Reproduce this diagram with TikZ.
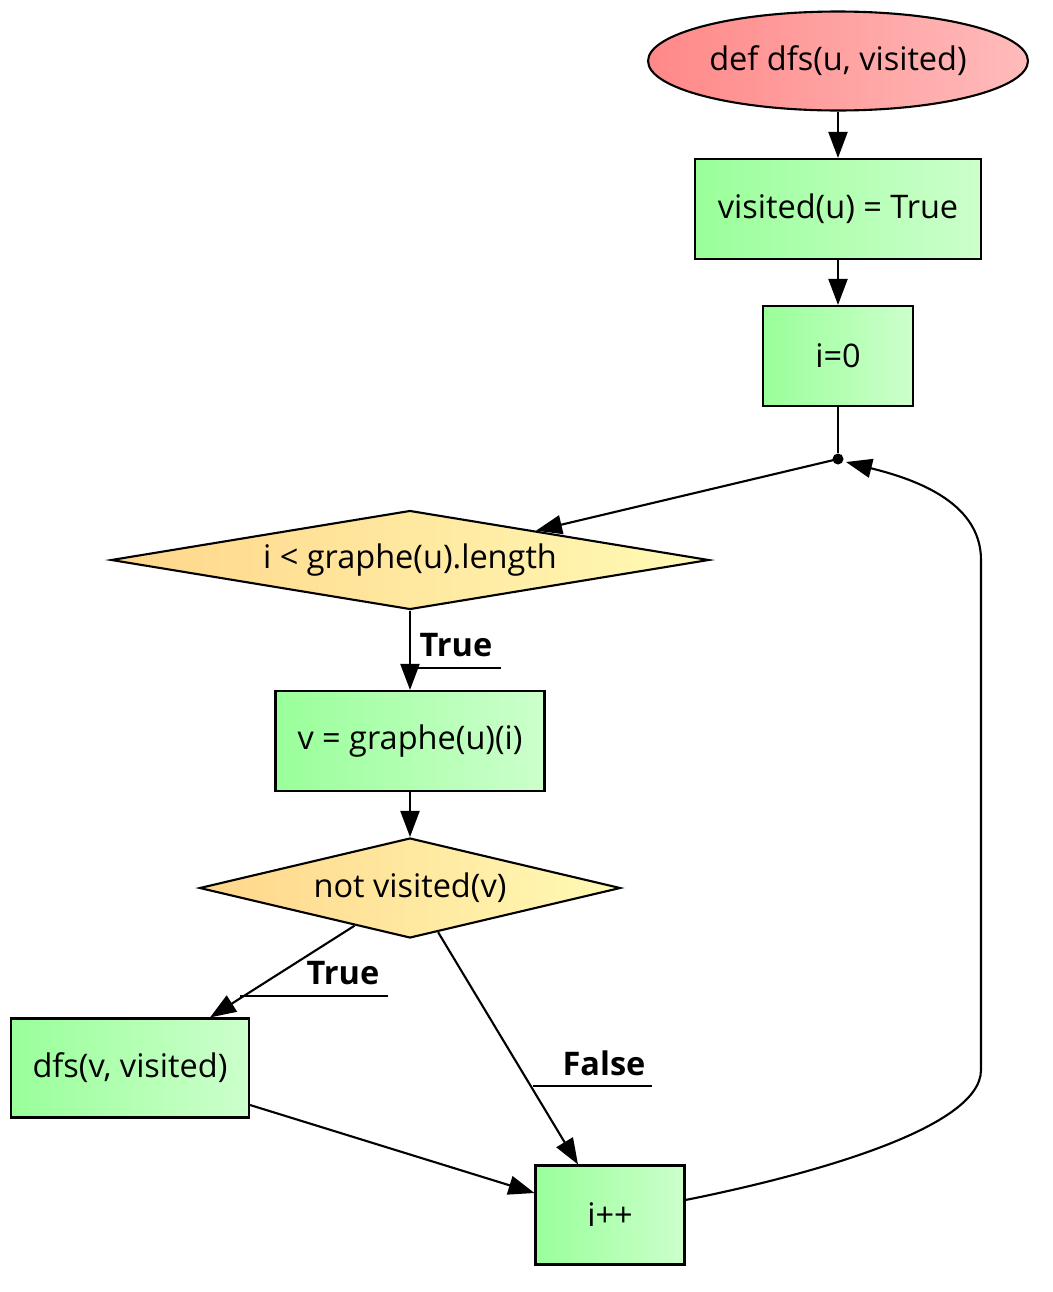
\documentclass[tikz,border=0pt]{standalone}
\usepackage{fontspec}
\setmainfont{Open Sans}
\usetikzlibrary{shapes.geometric,arrows.meta,calc}
\definecolor{redL}{HTML}{FF8888}
\definecolor{redR}{HTML}{FFBBBB}
\definecolor{grnL}{HTML}{99FF99}
\definecolor{grnR}{HTML}{CCFFCC}
\definecolor{ylwL}{HTML}{FFD68A}
\definecolor{ylwR}{HTML}{FFFAB5}
\tikzset{
  every node/.style={font=\fontsize{18.5}{22}\selectfont},
  startnode/.style={ellipse,draw,line width=1.2pt,left color=redL,right color=redR,inner sep=0pt},
  procbox/.style={rectangle,draw,line width=1.2pt,left color=grnL,right color=grnR,inner sep=0pt},
  decision/.style={diamond,draw,line width=1.2pt,left color=ylwL,right color=ylwR,inner sep=0pt,aspect=6},
  flow/.style={line width=1.2pt,-{Triangle[length=0.52cm,width=0.38cm]}},
  plain/.style={line width=1.2pt},
  lbl/.style={font=\fontsize{18.5}{22}\selectfont\bfseries,inner sep=0pt},
  uline/.style={line width=0.9pt}
}
\begin{document}
\begin{tikzpicture}[x=0.02cm,y=-0.02cm]
\useasboundingbox (0,0) rectangle (1053,1292);
\node[startnode,minimum width=7.6cm,minimum height=1.98cm] (start) at (838,61) {def dfs(u, visited)};
\node[procbox,minimum width=5.72cm,minimum height=2cm] (vis) at (838,209) {visited(u) = True};
\node[procbox,minimum width=3cm,minimum height=2cm] (init) at (838,356) {i=0};
\node[circle,fill=black,inner sep=0pt,minimum size=0.22cm] (pt) at (838,459) {};
\node[decision,minimum width=11.96cm,minimum height=1.98cm] (cond) at (410,560) {i < graphe(u).length};
\node[procbox,minimum width=5.38cm,minimum height=2cm] (getv) at (410,741) {v = graphe(u)(i)};
\node[decision,minimum width=8.42cm,minimum height=2cm] (notv) at (410,888) {not visited(v)};
\node[procbox,minimum width=4.76cm,minimum height=1.98cm] (rec) at (130,1068) {dfs(v, visited)};
\node[procbox,minimum width=2.98cm,minimum height=1.98cm] (inc) at (610,1215) {i++};

\draw[flow] (start) -- (vis);
\draw[flow] (vis) -- (init);
\draw[plain] (init) -- (pt);
\draw[flow] (pt.center) -- ($(cond.north)!0.42!(cond.east)$);
\draw[flow] (cond) -- (getv);
\draw[flow] (getv) -- (notv);
\draw[flow] ($(notv.south)!0.262!(notv.west)$) -- ($(rec.north)+(80,0)$);
\draw[flow] ($(notv.south)!0.133!(notv.east)$) -- ($(inc.north)+(-32,0)$);
\draw[flow] ($(rec.east)+(0,37)$) -- ($(inc.west)+(0,-22)$);
\coordinate (loopA) at (981,1070);
\coordinate (loopB) at (981,560);
\draw[flow] ($(inc.east)+(0,-15)$) .. controls (800,1177) and (981,1130) .. (loopA)
  -- (loopB) .. controls (981,500) and (910,478) .. ($(pt.center)+(8,3)$);

\node[lbl] (l1) at (456,645) {True};
\coordinate (u1a) at (410,668);
\coordinate (u1b) at (501,668);
\draw[uline] (u1a) -- (u1b);
\node[lbl] (l2) at (343,973) {True};
\coordinate (u2a) at (240,996);
\coordinate (u2b) at (388,996);
\draw[uline] (u2a) -- (u2b);
\node[lbl] (l3) at (604,1063) {False};
\coordinate (u3a) at (533,1086);
\coordinate (u3b) at (652,1086);
\draw[uline] (u3a) -- (u3b);
\end{tikzpicture}
\end{document}
